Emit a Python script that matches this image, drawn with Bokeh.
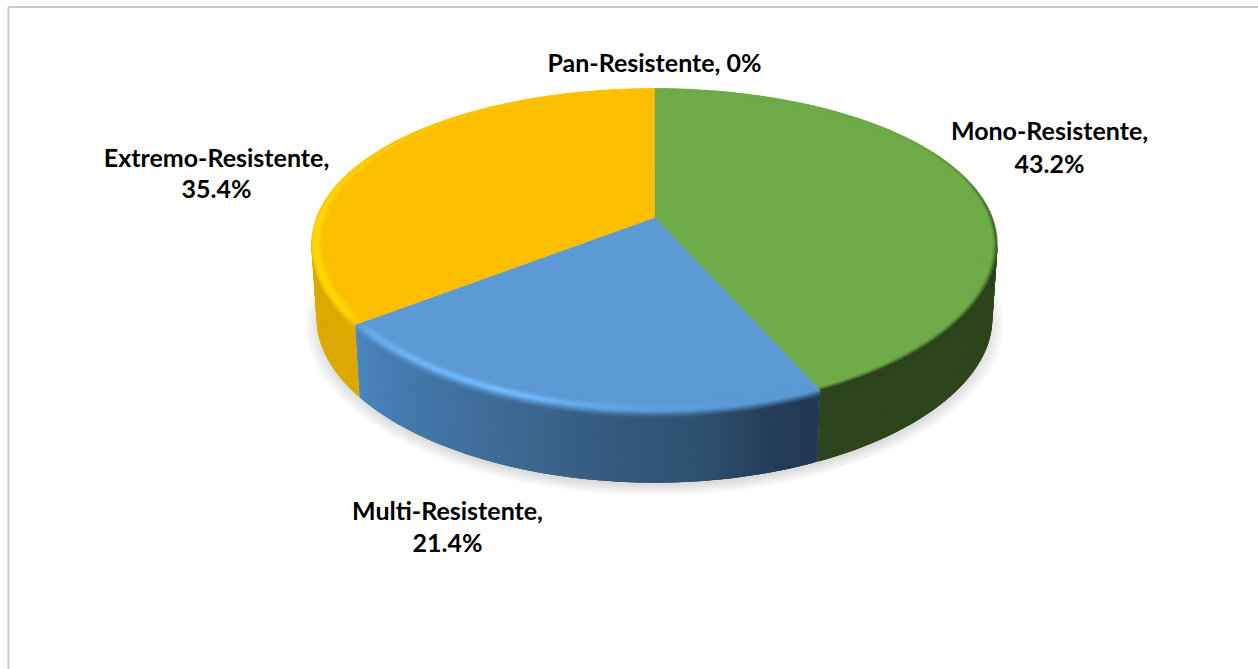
import numpy as np
from bokeh.plotting import figure
from bokeh.models import Range1d
from bokeh.core.properties import value
from bokeh.embed import file_html
from bokeh.resources import INLINE

# Share of isolates per resistance class, in percent
categories = ["Mono-Resistente", "Multi-Resistente", "Extremo-Resistente", "Pan-Resistente"]
shares = [43.2, 21.4, 35.4, 0]
share_labels = ["43.2%", "21.4%", "35.4%", "0%"]

TOP = {"Mono-Resistente": "#6fac49", "Multi-Resistente": "#5b9ad5",
       "Extremo-Resistente": "#fcbf00", "Pan-Resistente": "#a5a5a5"}
GLOW = {"Mono-Resistente": "#6fac49", "Multi-Resistente": "#74bcff",
        "Extremo-Resistente": "#ffdc00", "Pan-Resistente": "#a5a5a5"}

# Projection of the tilted disc
CX, APEX_Y = 654.0, 217.0
A, B, KX, KY = 338.0, 155.0, 0.17, 0.2013
DEPTH, TAPER = 74.0, 0.015


def project(theta, r=1.0, z=0.0):
    """Angle clockwise from twelve o'clock (radians) to page coordinates."""
    u, v = r * np.sin(theta), -r * np.cos(theta)
    x, y = A * u / (1 - KX * v), B * v / (1 - KY * v)
    scale = 1 - TAPER * z / DEPTH
    return CX + x * scale, APEX_Y + y * scale + z


def rgb(h):
    return np.array([int(h[i:i + 2], 16) for i in (1, 3, 5)], dtype=float)


def css(c):
    c = np.clip(np.round(c), 0, 255).astype(int)
    return "#%02x%02x%02x" % tuple(c)


# Side wall shades
BLUE_X = [355, 400, 500, 600, 700, 780, 825]
BLUE_C = [rgb(c) for c in ("#4b86bd", "#4379ad", "#3d6b94", "#355b80", "#2e5070", "#233b57", "#233a55")]


def side_colour(name, x):
    if name == "Multi-Resistente":
        return np.array([np.interp(x, BLUE_X, [c[i] for c in BLUE_C]) for i in range(3)])
    if name == "Mono-Resistente":
        return rgb("#2d451c")
    return rgb("#dca900")


def glow_amount(name, deg):
    if name == "Multi-Resistente":
        return np.interp(deg, [165, 178, 190, 200, 215, 233], [0, .1, .5, 1, .85, .5])
    if name == "Extremo-Resistente":
        return np.interp(deg, [233, 265, 285, 315, 360], [.9, 1, .7, .25, 0])
    return 0.0


def wall_weight(deg):
    # How far the top edge darkens towards the wall colour around the disc
    a = (deg + 360) % 360
    return np.interp(a, [0, 40, 60, 75, 90, 130, 232, 262, 300, 360], [0, .04, .2, .5, 1, 1, 1, .35, 0, 0])


p = figure(width=1258, height=669, output_backend="svg", toolbar_location=None,
           x_range=Range1d(0, 1258), y_range=Range1d(669, 0), min_border=0,
           background_fill_color="white", border_fill_color="white")
p.axis.visible = False
p.grid.visible = False
p.outline_line_color = None

# Chart frame: only the top and left edges show
p.line([8, 8, 1258], [669, 6.5, 6.5], line_color="#cbcbcb", line_width=2)

# Soft shadow under the disc
ring = np.radians(np.linspace(0, 360, 241))
for sc in np.linspace(1.036, 0.99, 12):
    bx, by = project(ring, 1.0, DEPTH)
    p.patch(CX + (bx - CX) * sc, APEX_Y + 33 + (by - APEX_Y - 33) * sc + 5,
            fill_color="black", fill_alpha=0.013, line_color=None)

edges = np.concatenate([[0], np.cumsum(shares)]) / np.sum(shares) * 360.0
slices = [(n, edges[i], edges[i + 1]) for i, n in enumerate(categories) if shares[i] > 0]

# Side walls: facets overlap the next one so no seams appear between them
wx, wy, wc = [], [], []
for name, a0, a1 in slices:
    degs = np.arange(a0, a1 + 0.5, 0.5)
    degs[-1] = a1
    for i in range(len(degs) - 1):
        d0, d1 = degs[i], degs[min(i + 3, len(degs) - 1)]
        mid = (degs[i] + degs[i + 1]) / 2
        if -np.cos(np.radians(mid)) < KX - 0.02:
            continue
        t0, t1 = np.radians(d0), np.radians(d1)
        x0, y0 = project(t0)
        x1, y1 = project(t1)
        x2, y2 = project(t1, 1, DEPTH)
        x3, y3 = project(t0, 1, DEPTH)
        xm, _ = project(np.radians(mid))
        wx.append([x0, x1, x2, x3])
        wy.append([y0, y1, y2, y3])
        wc.append(css(side_colour(name, xm)))
p.patches(wx, wy, fill_color=wc, line_color=None)

# Top faces
for name, a0, a1 in slices:
    th = np.radians(np.linspace(a0, a1, 200))
    x, y = project(th)
    p.patch(np.r_[CX, x], np.r_[APEX_Y, y], fill_color=TOP[name], line_color=TOP[name], line_width=0.6)

# Rounded rim: bands running across the edge, from the top face over onto the wall
S = np.linspace(0, 1, 13)
bx_, by_, bc_ = [], [], []


def rim_point(th, s):
    if s < 0.6:
        return project(th, 0.958 + 0.042 * s / 0.6, 0.0)
    return project(th, 1.0, 9.0 * (s - 0.6) / 0.4)


for name, a0, a1 in slices:
    degs = np.arange(a0, a1 + 1.0, 1.0)
    degs[-1] = a1
    top_c, glow_c = rgb(TOP[name]), rgb(GLOW[name])
    for i in range(len(degs) - 1):
        d0, d1 = degs[i], degs[min(i + 2, len(degs) - 1)]
        t0, t1 = np.radians(d0), np.radians(d1)
        mid = (degs[i] + degs[i + 1]) / 2
        front = -np.cos(np.radians(mid)) >= KX
        xm, _ = project(np.radians(mid))
        wall = side_colour(name, xm)
        gl = glow_amount(name, mid)
        wgt = wall_weight(mid)
        # The highlight dies away at the cut edges of a slice
        fade = min(1.0, (mid - a0) / 3.0, (a1 - mid) / 3.0)
        for j in range(len(S) - 1):
            s0, s1 = S[j], S[j + 1]
            if s1 > 0.6 and not front:
                continue
            s = (s0 + s1) / 2
            mix = np.clip((s - 0.5) / 0.45, 0, 1)
            mix = mix * mix * (3 - 2 * mix)
            if s < 0.6:
                mix = mix * wgt
            bump = np.exp(-((s - 0.42) / 0.17) ** 2) * gl * fade
            dark = np.clip((s - 0.42) / 0.2, 0, 1) * wgt if name == "Mono-Resistente" else 0.0
            c = top_c * (1 - mix) + wall * mix
            c = c * (1 - bump) + glow_c * bump
            c = c * (1 - dark) + wall * dark
            xa, ya = rim_point(t0, s0)
            xb, yb = rim_point(t1, s0)
            xc, yc = rim_point(t1, s1)
            xd, yd = rim_point(t0, s1)
            bx_.append([xa, xb, xc, xd])
            by_.append([ya, yb, yc, yd])
            bc_.append(css(c))
p.patches(bx_, by_, fill_color=bc_, line_color=None)

# Data labels
fnt = value("Lato")
placements = {"Pan-Resistente": (654, [61]), "Mono-Resistente": (1049, [129, 162]),
              "Extremo-Resistente": (216, [156, 187]), "Multi-Resistente": (447, [509, 541])}
for name, lab in zip(categories, share_labels):
    x, ys = placements[name]
    lines = [f"{name}, {lab}"] if len(ys) == 1 else [f"{name},", lab]
    p.text([x] * len(lines), ys, text=lines, text_font=fnt, text_font_style="bold",
           text_font_size="25px", text_color="black", text_align="center", text_baseline="middle")

open("out.html", "w").write(file_html(p, INLINE))
